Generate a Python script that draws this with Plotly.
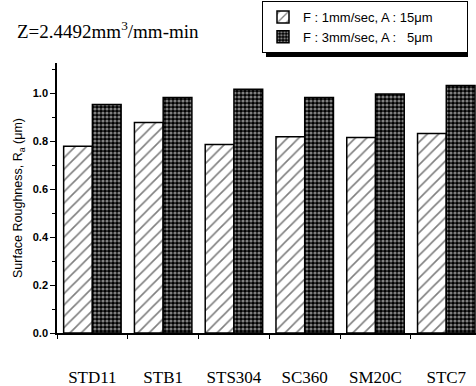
import plotly.graph_objects as go

categories = ["STD11", "STB1", "STS304", "SC360", "SM20C", "STC7"]
series1_name = "F : 1mm/sec, A : 15μm"
series2_name = "F : 3mm/sec, A :   5μm"
series1 = [0.780, 0.879, 0.787, 0.819, 0.816, 0.833]
series2 = [0.954, 0.983, 1.017, 0.983, 0.998, 1.033]
y_ticks = [0.0, 0.2, 0.4, 0.6, 0.8, 1.0]
y_tick_labels = ["0.0", "0.2", "0.4", "0.6", "0.8", "1.0"]

# plot area in pixels
L, R, T, B = 57, 476, 63, 333
W, H = 476, 386
def px(x):
    return (x - L) / (R - L)
def py(y):
    return (B - y) / (B - T)

pad = "\u00a0" * 8

fig = go.Figure()
fig.add_trace(go.Bar(
    x=categories, y=series1, name=series1_name + pad,
    marker=dict(color="white", line=dict(color="black", width=1.5),
                pattern=dict(shape="/", fgcolor="black", bgcolor="white", size=8, solidity=0.2)),
))
fig.add_trace(go.Bar(
    x=categories, y=series2, name=series2_name + pad,
    marker=dict(color="black", line=dict(color="black", width=1.5),
                pattern=dict(shape=".", fgcolor="white", bgcolor="black", size=4, solidity=0.5)),
))

fig.update_layout(
    width=W, height=H,
    margin=dict(l=L, r=W - R, t=T, b=H - B),
    paper_bgcolor="white", plot_bgcolor="white",
    barmode="group", bargap=0.188, bargroupgap=0,
    showlegend=True,
    legend=dict(x=px(262), y=py(1), xanchor="left", yanchor="top",
                bgcolor="white", bordercolor="black", borderwidth=1,
                font=dict(family="Arial, Liberation Sans", size=13, color="black"),
                tracegroupgap=0, itemwidth=30),
    xaxis=dict(range=[-0.5, 5.42], showline=True, linecolor="black", linewidth=1.5,
               ticks="outside", tickson="boundaries", ticklen=4, tickcolor="black",
               tickfont=dict(family="Times New Roman, Liberation Serif", size=17, color="black"),
               ticklabelstandoff=28, showgrid=False, zeroline=False),
    yaxis=dict(range=[0, 1.127], showline=True, linecolor="black", linewidth=1.5,
               tickvals=y_ticks, ticktext=["<b>%s</b>" % t for t in y_tick_labels],
               ticks="outside", ticklen=5, tickcolor="black", tickwidth=1.2,
               minor=dict(dtick=0.1, ticks="outside", ticklen=3, tickcolor="black"),
               tickfont=dict(family="Arial, Liberation Sans", size=11, color="black"),
               showgrid=False, zeroline=False,
               title=dict(text="Surface Roughness, R<sub>a</sub> (μm)",
                          font=dict(family="Arial, Liberation Sans", size=12.5, color="black"),
                          standoff=7)),
    shapes=[dict(type="rect", xref="paper", yref="paper",
                 x0=px(266), x1=px(468), y0=py(57), y1=py(5),
                 fillcolor="black", line=dict(width=0), layer="below")],
    annotations=[dict(text="Z=2.4492mm<sup>3</sup>/mm-min", xref="paper", yref="paper",
                      x=px(15), y=py(30), xanchor="left", yanchor="middle",
                      showarrow=False,
                      font=dict(family="Times New Roman, Liberation Serif", size=19, color="black"))],
)

fig.write_html("out.html")
